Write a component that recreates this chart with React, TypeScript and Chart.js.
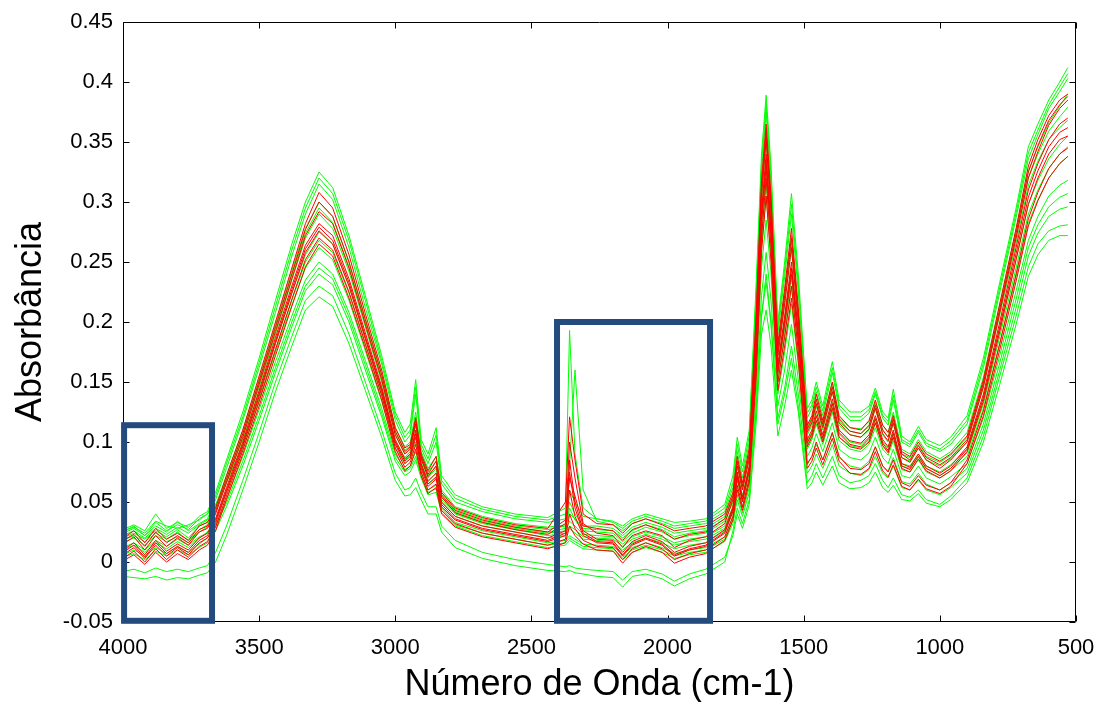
import React, { useEffect, useRef } from "react";
import { Chart, registerables } from "chart.js";

Chart.register(...registerables);

// Wavenumbers (cm-1), shared by all spectra
const WN = [4000, 3960, 3920, 3880, 3840, 3800, 3760, 3720, 3690,
  3660, 3620, 3560, 3500, 3440, 3380, 3330, 3280, 3230, 3170, 3110, 3050, 3000,
  2965, 2945, 2925, 2905, 2880, 2850, 2830, 2780, 2680, 2560,
  2440, 2375, 2360, 2340, 2310, 2260, 2200, 2165, 2130, 2080, 2020, 1975, 1920, 1860, 1790,
  1760, 1744, 1725, 1700, 1675, 1655, 1638, 1620, 1595, 1570, 1545, 1520,
  1487, 1470, 1454, 1430, 1395, 1370, 1330, 1290, 1260, 1237, 1210, 1190, 1171, 1140, 1110, 1079, 1050, 1000, 960,
  900, 840, 780, 720, 675, 640, 600, 560, 530];

// Green spectra
const G1 = [.027, .031, .026, .040, .028, .033, .029, .038, .042,
  .058, .085, .125, .170, .218, .265, .300, .325, .312, .272, .222, .172, .125,
  .108, .115, .152, .102, .090, .112, .072, .056, .046, .040,
  .037, .045, .193, .090, .045, .036, .034, .030, .036, .040, .036, .033, .034, .036, .048,
  .072, .104, .080, .110, .230, .340, .389, .330, .200, .250, .307, .240,
  .128, .135, .150, .130, .167, .135, .125, .125, .130, .145, .125, .120, .144, .105, .100, .113, .102, .097, .104,
  .122, .170, .233, .295, .346, .365, .385, .400, .412];
const G2 = [.024, .028, .022, .030, .025, .034, .026, .032, .036,
  .052, .078, .118, .162, .208, .255, .290, .315, .302, .262, .212, .165, .118,
  .100, .106, .140, .095, .082, .100, .065, .050, .042, .036,
  .033, .036, .080, .160, .060, .034, .031, .026, .032, .036, .032, .028, .030, .032, .042,
  .062, .092, .070, .100, .215, .325, .375, .315, .190, .238, .290, .225,
  .120, .128, .142, .122, .158, .128, .118, .118, .124, .140, .120, .114, .135, .100, .096, .108, .097, .092, .098,
  .115, .162, .225, .287, .336, .356, .378, .392, .403];
const G3 = [.020, .024, .019, .026, .021, .027, .020, .030, .033,
  .047, .072, .110, .153, .198, .243, .278, .300, .288, .250, .203, .157, .112,
  .096, .100, .125, .092, .078, .088, .060, .046, .038, .032,
  .029, .031, .050, .040, .030, .030, .028, .022, .029, .033, .029, .024, .026, .028, .038,
  .056, .085, .064, .092, .200, .312, .362, .300, .180, .225, .272, .210,
  .113, .120, .135, .116, .150, .120, .112, .111, .117, .133, .114, .108, .125, .094, .090, .102, .092, .086, .092,
  .108, .154, .215, .277, .326, .346, .366, .380, .390];
const G4 = [.016, .020, .014, .022, .017, .021, .016, .025, .029,
  .042, .066, .104, .146, .190, .235, .270, .290, .278, .242, .196, .150, .106,
  .090, .095, .118, .087, .072, .080, .055, .042, .034, .029,
  .025, .028, .045, .035, .026, .025, .024, .017, .024, .029, .025, .019, .022, .024, .034,
  .050, .080, .060, .086, .188, .300, .350, .290, .172, .215, .262, .200,
  .106, .114, .130, .110, .142, .114, .106, .104, .110, .128, .106, .100, .116, .087, .084, .095, .085, .080, .086,
  .100, .146, .206, .266, .314, .334, .352, .362, .368];
const G5 = [.022, .026, .020, .028, .023, .029, .024, .031, .035,
  .046, .068, .102, .142, .183, .224, .256, .275, .265, .230, .186, .142, .101,
  .087, .092, .115, .085, .070, .078, .054, .041, .033, .028,
  .024, .026, .034, .030, .023, .022, .021, .015, .021, .025, .021, .016, .019, .021, .030,
  .046, .074, .055, .080, .175, .280, .325, .272, .162, .202, .245, .188,
  .100, .108, .122, .104, .133, .108, .100, .098, .104, .120, .100, .095, .108, .082, .080, .090, .080, .075, .081,
  .094, .137, .194, .252, .298, .318, .336, .348, .355];
const G6 = [.010, .014, .008, .016, .011, .017, .012, .020, .025,
  .036, .058, .094, .134, .175, .214, .245, .262, .252, .218, .176, .134, .095,
  .082, .086, .100, .080, .065, .070, .050, .038, .030, .025,
  .020, .022, .028, .024, .019, .018, .017, .010, .016, .020, .016, .011, .014, .016, .026,
  .042, .068, .050, .074, .162, .262, .305, .255, .150, .188, .230, .176,
  .094, .102, .115, .098, .125, .101, .094, .092, .098, .112, .094, .089, .101, .077, .075, .085, .075, .070, .076,
  .088, .128, .182, .238, .282, .302, .320, .332, .338];
const G7 = [.006, .010, .005, .012, .007, .013, .008, .015, .020,
  .030, .052, .088, .127, .167, .205, .235, .250, .240, .208, .168, .128, .090,
  .077, .080, .092, .075, .060, .064, .045, .033, .026, .021,
  .016, .018, .022, .019, .015, .014, .013, .006, .012, .016, .012, .007, .010, .012, .021,
  .038, .062, .045, .068, .150, .245, .285, .240, .140, .175, .215, .165,
  .088, .095, .107, .092, .116, .094, .087, .085, .091, .104, .087, .082, .094, .072, .070, .080, .070, .065, .071,
  .082, .120, .172, .226, .268, .288, .305, .314, .318];
const G8 = [.004, .007, .002, .009, .005, .010, .006, .012, .016,
  .026, .046, .080, .118, .158, .196, .226, .240, .231, .200, .160, .121, .084,
  .072, .075, .085, .070, .056, .058, .041, .030, .022, .017,
  .012, .014, .018, .015, .011, .010, .009, .002, .008, .012, .008, .003, .006, .008, .017,
  .032, .052, .038, .058, .128, .205, .233, .198, .120, .145, .180, .140,
  .074, .080, .090, .078, .098, .080, .074, .072, .077, .088, .074, .070, .080, .062, .060, .068, .060, .056, .062,
  .074, .110, .160, .212, .255, .274, .288, .294, .296];
const G9 = [-.008, -.006, -.009, -.005, -.008, -.006, -.008, -.005, -.003,
  .008, .030, .068, .108, .150, .188, .218, .230, .222, .190, .150, .110, .074,
  .060, .062, .070, .058, .046, .046, .030, .018, .008, .002,
  -.002, -.004, -.003, -.005, -.006, -.007, -.008, -.015, -.008, -.006, -.010, -.016, -.010, -.006, .004,
  .022, .040, .028, .048, .115, .190, .210, .180, .105, .130, .160, .125,
  .061, .066, .075, .064, .080, .066, .061, .062, .066, .075, .062, .058, .064, .052, .051, .057, .049, .046, .052,
  .066, .100, .148, .198, .238, .256, .268, .272, .272];
const G10 = [-.012, -.013, -.014, -.012, -.015, -.013, -.014, -.011, -.009,
  .000, .022, .060, .100, .142, .180, .210, .221, .213, .182, .143, .104, .068,
  .055, .056, .062, .052, .040, .040, .025, .012, .003, -.003,
  -.007, -.008, -.007, -.009, -.010, -.012, -.013, -.021, -.012, -.010, -.014, -.020, -.014, -.010, .000,
  .026, .045, .032, .052, .125, .205, .240, .200, .115, .140, .170, .130,
  .066, .072, .082, .070, .088, .072, .066, .068, .072, .082, .068, .062, .070, .056, .054, .060, .052, .048, .055,
  .070, .105, .155, .205, .246, .265, .276, .280, .281];
const G11 = [.026, .029, .024, .034, .030, .028, .031, .035, .040,
  .055, .082, .121, .166, .213, .260, .295, .320, .307, .268, .218, .168, .122,
  .104, .110, .146, .098, .086, .106, .068, .053, .044, .038,
  .035, .040, .060, .050, .038, .036, .033, .028, .034, .038, .034, .030, .032, .034, .045,
  .066, .098, .075, .105, .222, .332, .382, .322, .195, .244, .298, .232,
  .124, .131, .146, .126, .162, .131, .121, .121, .127, .142, .122, .117, .139, .102, .098, .110, .099, .094, .101,
  .118, .166, .229, .291, .341, .360, .381, .396, .407];
const G12 = [.018, .022, .017, .024, .019, .025, .018, .027, .031,
  .044, .069, .107, .150, .194, .239, .274, .295, .283, .246, .199, .153, .109,
  .093, .097, .121, .089, .075, .084, .058, .044, .036, .030,
  .027, .030, .040, .036, .028, .027, .026, .020, .026, .031, .027, .021, .024, .026, .036,
  .053, .082, .062, .089, .194, .306, .356, .295, .176, .220, .267, .205,
  .110, .117, .132, .113, .146, .117, .109, .107, .113, .130, .110, .104, .120, .090, .087, .098, .088, .083, .089,
  .104, .150, .210, .271, .320, .340, .359, .371, .379];
const G13 = [.025, .030, .022, .033, .026, .031, .027, .036, .040,
  .048, .066, .098, .136, .177, .218, .250, .268, .258, .224, .181, .138, .098,
  .085, .089, .108, .082, .068, .074, .052, .040, .032, .027,
  .022, .024, .030, .027, .021, .020, .019, .013, .019, .023, .019, .014, .017, .019, .028,
  .044, .071, .052, .077, .168, .270, .315, .263, .156, .195, .238, .182,
  .097, .105, .118, .101, .129, .104, .097, .095, .101, .116, .097, .092, .104, .080, .078, .088, .078, .072, .078,
  .091, .132, .188, .245, .290, .310, .328, .340, .346];
const G14 = [.012, .016, .010, .018, .013, .019, .014, .021, .024,
  .030, .049, .084, .122, .162, .200, .230, .245, .236, .204, .164, .124, .087,
  .075, .078, .088, .072, .058, .061, .043, .031, .024, .019,
  .014, .016, .020, .017, .013, .012, .011, .004, .010, .014, .010, .005, .008, .010, .019,
  .035, .056, .041, .062, .138, .222, .258, .218, .130, .160, .198, .152,
  .081, .088, .098, .085, .107, .087, .080, .078, .084, .096, .080, .076, .087, .067, .065, .074, .065, .060, .066,
  .078, .115, .166, .219, .262, .281, .296, .304, .307];

// Red spectra
const R1 = [.020, .026, .016, .028, .019, .024, .018, .030, .033,
  .045, .072, .110, .155, .200, .245, .282, .308, .295, .256, .207, .160, .112,
  .095, .098, .120, .090, .076, .088, .058, .045, .037, .031,
  .028, .050, .121, .085, .040, .032, .031, .024, .032, .036, .031, .026, .028, .030, .040,
  .058, .088, .066, .095, .205, .318, .365, .305, .182, .228, .278, .212,
  .114, .122, .140, .118, .150, .122, .112, .110, .118, .135, .114, .108, .122, .092, .088, .100, .090, .084, .090,
  .105, .152, .215, .278, .330, .352, .372, .385, .390];
const R2 = [.015, .021, .010, .022, .013, .020, .014, .025, .028,
  .040, .066, .104, .148, .192, .236, .272, .292, .282, .245, .198, .152, .106,
  .090, .094, .115, .086, .071, .080, .054, .041, .033, .027,
  .023, .032, .100, .070, .032, .024, .022, .012, .022, .026, .022, .012, .018, .021, .032,
  .052, .080, .060, .086, .192, .305, .352, .290, .172, .215, .262, .200,
  .108, .116, .132, .112, .142, .116, .106, .104, .111, .128, .107, .101, .116, .087, .083, .095, .085, .078, .085,
  .100, .146, .208, .270, .320, .342, .364, .378, .385];
const R3 = [.010, .016, .006, .018, .009, .015, .010, .020, .024,
  .036, .062, .100, .143, .187, .230, .264, .282, .272, .236, .191, .146, .102,
  .086, .090, .110, .082, .067, .074, .050, .038, .030, .025,
  .020, .026, .085, .050, .026, .019, .018, .008, .017, .022, .017, .008, .013, .016, .027,
  .046, .075, .054, .080, .180, .292, .340, .280, .165, .205, .250, .192,
  .102, .110, .126, .106, .136, .110, .101, .099, .106, .122, .102, .096, .110, .082, .079, .090, .080, .074, .080,
  .096, .140, .200, .262, .310, .332, .352, .365, .370];
const R4 = [.006, .012, .003, .014, .005, .012, .006, .016, .020,
  .032, .058, .096, .138, .182, .224, .258, .276, .265, .230, .186, .142, .098,
  .082, .086, .104, .078, .063, .069, .046, .035, .027, .022,
  .017, .022, .060, .038, .022, .016, .015, .005, .014, .019, .014, .005, .010, .013, .024,
  .042, .070, .050, .076, .170, .282, .330, .272, .158, .198, .240, .184,
  .096, .104, .118, .100, .128, .104, .096, .094, .100, .116, .097, .091, .104, .078, .075, .086, .076, .070, .076,
  .092, .134, .192, .252, .298, .320, .340, .352, .355];
const R5 = [.003, .009, .000, .011, .002, .010, .004, .013, .017,
  .029, .055, .093, .134, .177, .219, .252, .270, .260, .225, .182, .139, .095,
  .079, .083, .098, .075, .060, .065, .043, .032, .024, .019,
  .014, .019, .040, .028, .018, .013, .012, .002, .011, .016, .011, .002, .007, .010, .021,
  .038, .064, .046, .070, .160, .270, .320, .262, .150, .188, .230, .176,
  .082, .088, .100, .085, .108, .088, .078, .077, .082, .096, .080, .075, .085, .066, .063, .072, .064, .060, .066,
  .085, .126, .182, .240, .286, .308, .328, .340, .345];
const R6 = [.018, .023, .013, .025, .016, .022, .016, .027, .030,
  .042, .069, .107, .151, .196, .240, .277, .300, .288, .250, .202, .156, .109,
  .092, .096, .118, .088, .073, .084, .056, .043, .035, .029,
  .025, .035, .070, .055, .030, .028, .026, .018, .027, .031, .026, .019, .023, .025, .036,
  .055, .084, .063, .090, .198, .312, .358, .298, .177, .222, .270, .206,
  .111, .119, .136, .115, .146, .119, .109, .107, .114, .131, .110, .104, .119, .090, .085, .097, .087, .081, .087,
  .102, .149, .211, .274, .325, .347, .368, .381, .388];
const R7 = [.008, .014, .004, .016, .007, .013, .008, .018, .022,
  .034, .060, .098, .140, .184, .227, .261, .279, .268, .233, .188, .144, .100,
  .084, .088, .107, .080, .065, .071, .048, .036, .028, .023,
  .018, .024, .075, .045, .024, .017, .016, .006, .015, .020, .015, .006, .011, .014, .025,
  .044, .072, .052, .078, .175, .287, .335, .276, .161, .201, .245, .188,
  .099, .107, .122, .103, .132, .107, .098, .096, .103, .119, .099, .093, .107, .080, .077, .088, .078, .072, .078,
  .094, .137, .196, .257, .304, .326, .346, .358, .362];
const R8 = [.001, .006, -.002, .008, .000, .007, .002, .010, .014,
  .026, .052, .090, .130, .172, .213, .246, .265, .255, .220, .178, .135, .092,
  .076, .080, .094, .072, .057, .062, .040, .029, .021, .016,
  .011, .016, .030, .022, .015, .010, .009, -.001, .008, .013, .008, -.001, .004, .007, .018,
  .035, .060, .043, .066, .152, .258, .305, .250, .143, .180, .220, .168,
  .078, .084, .095, .081, .103, .084, .074, .073, .078, .092, .076, .071, .081, .063, .060, .069, .061, .057, .063,
  .082, .122, .177, .234, .280, .301, .320, .332, .338];

const GREEN_SERIES = [G1, G11, G2, G3, G12, G4, G5, G13, G6, G7, G14, G8, G9, G10];
const RED_SERIES = [R1, R6, R2, R3, R7, R4, R5, R8];

// Axis ticks
const X_TICKS = [4000, 3500, 3000, 2500, 2000, 1500, 1000, 500];
const Y_TICKS = [-0.05, 0, 0.05, 0.1, 0.15, 0.2, 0.25, 0.3, 0.35, 0.4, 0.45];

// Highlight boxes (wavenumber range, absorbance range)
const BOX_WN = [[3996, 3673], [2406, 1844]];
const BOX_ABS = [[-0.049, 0.114], [-0.049, 0.2]];

const FONT = '"Liberation Sans", Arial, Helvetica, sans-serif';

const toPoints = (ys: number[]) => ys.map((y, i) => ({ x: WN[i], y }));

const overlay = {
  id: "overlay",
  afterDraw(chart: any) {
    const { ctx, chartArea, scales } = chart;
    const { left, right, top, bottom } = chartArea;
    const x = scales.x;
    const y = scales.y;
    ctx.save();
    ctx.strokeStyle = "#000";
    ctx.lineWidth = 1;
    const L = Math.round(left) + 0.5;
    const R = Math.round(right) - 0.5;
    const T = Math.round(top) + 0.5;
    const B = Math.round(bottom) - 0.5;
    ctx.beginPath();
    ctx.rect(L, T, R - L, B - T);
    ctx.stroke();
    ctx.beginPath();
    for (const v of Y_TICKS) {
      const py = Math.round(y.getPixelForValue(v)) + 0.5;
      ctx.moveTo(L, py); ctx.lineTo(L + 6, py);
      ctx.moveTo(R, py); ctx.lineTo(R - 6, py);
    }
    for (const v of X_TICKS) {
      const px = Math.round(x.getPixelForValue(v)) + 0.5;
      ctx.moveTo(px, B); ctx.lineTo(px, B - 6);
      ctx.moveTo(px, T); ctx.lineTo(px, T + 6);
    }
    ctx.stroke();

    // highlight boxes
    ctx.strokeStyle = "#234b7d";
    ctx.lineWidth = 6;
    BOX_WN.forEach((wn, i) => {
      const x1 = x.getPixelForValue(wn[0]);
      const x2 = x.getPixelForValue(wn[1]);
      const y1 = y.getPixelForValue(BOX_ABS[i][1]);
      const y2 = y.getPixelForValue(BOX_ABS[i][0]);
      ctx.strokeRect(x1, y1, x2 - x1, y2 - y1);
    });

    // axis titles
    ctx.fillStyle = "#000";
    ctx.font = `36px ${FONT}`;
    ctx.textAlign = "center";
    ctx.textBaseline = "alphabetic";
    ctx.fillText("Número de Onda (cm-1)", (left + right) / 2, 695);
    ctx.translate(41, (top + bottom) / 2);
    ctx.rotate(-Math.PI / 2);
    ctx.fillText("Absorbância", 0, 0);
    ctx.restore();
  },
};

export default function App() {
  const ref = useRef<HTMLCanvasElement>(null);
  useEffect(() => {
    if (!ref.current) return;
    document.body.style.margin = "0";
    const datasets: any[] = [];
    RED_SERIES.forEach((s, i) => {
      datasets.push({
        label: `R${i + 1}`,
        data: toPoints(s),
        borderColor: "#ff0000",
        borderWidth: 1,
        pointRadius: 0,
        fill: false,
        tension: 0,
        order: 0,
      });
    });
    GREEN_SERIES.forEach((s, i) => {
      datasets.push({
        label: `G${i + 1}`,
        data: toPoints(s),
        borderColor: "#00ff00",
        borderWidth: 1,
        pointRadius: 0,
        fill: false,
        tension: 0,
        order: 1,
      });
    });
    const chart = new Chart(ref.current, {
      type: "line",
      data: { datasets },
      options: {
        responsive: false,
        animation: false,
        devicePixelRatio: 1,
        layout: { padding: { top: 22, right: 25, left: 0, bottom: 0 } },
        plugins: { legend: { display: false }, tooltip: { enabled: false } },
        scales: {
          x: {
            type: "linear",
            reverse: true,
            min: 500,
            max: 4000,
            grid: { display: false, drawTicks: false },
            border: { display: false },
            afterFit: (s: any) => {
              s.height = 80;
              s.paddingLeft = 0;
              s.paddingRight = 0;
            },
            afterBuildTicks: (s: any) => { s.ticks = X_TICKS.map((v) => ({ value: v })); },
            ticks: {
              color: "#000",
              font: { family: FONT, size: 22 },
              padding: 13,
              maxRotation: 0,
              autoSkip: false,
              callback: (v: any) => String(v),
            },
          },
          y: {
            type: "linear",
            min: -0.05,
            max: 0.45,
            grid: { display: false, drawTicks: false },
            border: { display: false },
            afterFit: (s: any) => {
              s.width = 123;
              s.paddingTop = 0;
              s.paddingBottom = 0;
            },
            afterBuildTicks: (s: any) => { s.ticks = Y_TICKS.map((v) => ({ value: v })); },
            ticks: {
              color: "#000",
              font: { family: FONT, size: 22 },
              padding: 10,
              autoSkip: false,
              callback: (v: any) => String(Number(Number(v).toFixed(2))),
            },
          },
        },
      },
      plugins: [overlay],
    });
    return () => chart.destroy();
  }, []);
  return (
    <canvas
      ref={ref}
      width={1101}
      height={702}
      style={{ position: "absolute", left: 0, top: 0, width: 1101, height: 702 }}
    />
  );
}
